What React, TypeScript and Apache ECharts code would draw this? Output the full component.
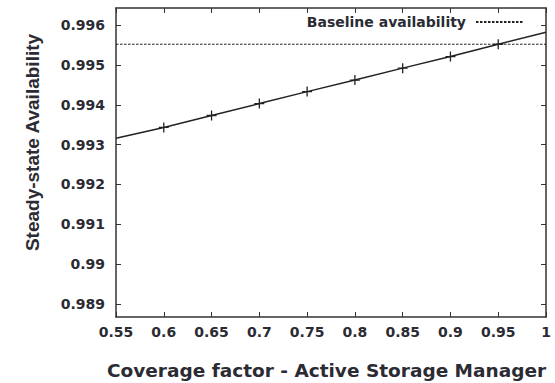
import React, { useEffect, useRef } from "react";
import * as echarts from "echarts";

const coverage = [0.55, 0.6, 0.65, 0.7, 0.75, 0.8, 0.85, 0.9, 0.95, 1];
const availability = [0.99316, 0.99343, 0.99373, 0.99403, 0.99433, 0.99462, 0.99492, 0.99521, 0.99552, 0.99582];
const baselineValue = 0.99552;
const xTicks = [0.55, 0.6, 0.65, 0.7, 0.75, 0.8, 0.85, 0.9, 0.95, 1];
const yTicks = [0.989, 0.99, 0.991, 0.992, 0.993, 0.994, 0.995, 0.996];
const xRange = [0.55, 1];
const yRange = [0.98867, 0.99643];
const legendLabel = "Baseline availability";
const xTitle = "Coverage factor - Active Storage Manager";
const yTitle = "Steady-state Availability";

const INK = "#2b2b33";
const LINE = "#222222";

export default function App() {
  const ref = useRef<HTMLDivElement>(null);
  useEffect(() => {
    if (!ref.current) return;
    const chart = echarts.init(ref.current, null, { renderer: "svg" });
    const tickFont = { fontFamily: "DejaVu Sans", fontWeight: "bold" as const, fontSize: 14, color: INK };
    const axisLine = { show: true, lineStyle: { color: "#333", width: 1.5 } };
    const axisTickBase = { show: true, inside: true, length: 5, lineStyle: { color: "#333", width: 1 } };
    const mainData = coverage.map((x, i) => ({
      value: [x, availability[i]],
      symbol: i === 0 || i === coverage.length - 1 ? "none" : "path://M-5,0L5,0M0,-5L0,5",
    }));
    chart.setOption({
      animation: false,
      backgroundColor: "#ffffff",
      grid: { left: 116, top: 8, right: 9, bottom: 66, containLabel: false },
      xAxis: [
        {
          type: "value", min: xRange[0], max: xRange[1], position: "bottom",
          axisLine, splitLine: { show: false },
          axisTick: { ...axisTickBase, customValues: xTicks },
          axisLabel: { ...tickFont, margin: 8, customValues: xTicks },
        },
        {
          type: "value", min: xRange[0], max: xRange[1], position: "top",
          axisLine, splitLine: { show: false },
          axisTick: { ...axisTickBase, customValues: xTicks },
          axisLabel: { show: false },
        },
      ],
      yAxis: [
        {
          type: "value", min: yRange[0], max: yRange[1], position: "left",
          axisLine, splitLine: { show: false },
          axisTick: { ...axisTickBase, customValues: yTicks },
          axisLabel: { ...tickFont, margin: 11, customValues: yTicks },
        },
        {
          type: "value", min: yRange[0], max: yRange[1], position: "right",
          axisLine, splitLine: { show: false },
          axisTick: { ...axisTickBase, customValues: yTicks },
          axisLabel: { show: false },
        },
      ],
      legend: {
        data: [legendLabel],
        right: 30,
        top: 15,
        padding: 0,
        align: "right",
        itemWidth: 48,
        itemHeight: 14,
        itemStyle: { opacity: 0 },
        textStyle: { fontFamily: "DejaVu Sans", fontWeight: "bold", fontSize: 14, color: INK, padding: [0, 5, 0, 0] },
      },
      series: [
        {
          type: "line",
          xAxisIndex: 0, yAxisIndex: 0,
          data: mainData,
          symbolSize: 10,
          showAllSymbol: true,
          lineStyle: { color: LINE, width: 1.5 },
          itemStyle: { color: "none", borderColor: LINE, borderWidth: 1.3 },
          z: 3,
        },
        {
          name: legendLabel,
          type: "line",
          xAxisIndex: 0, yAxisIndex: 0,
          data: [[xRange[0], baselineValue], [xRange[1], baselineValue]],
          symbol: "none",
          lineStyle: { color: LINE, width: 1, type: [2.5, 1.5] },
          itemStyle: { color: LINE },
          z: 2,
        },
      ],
      graphic: [
        {
          type: "text", x: 32, y: 142.5, rotation: Math.PI / 2,
          style: {
            text: yTitle, fontFamily: "Liberation Sans", fontWeight: "bold", fontSize: 19,
            fill: INK, align: "center", verticalAlign: "middle",
          },
        },
        {
          type: "text", x: 326.5, y: 370.5,
          style: {
            text: xTitle, fontFamily: "DejaVu Sans", fontWeight: "bold", fontSize: 18.5,
            fill: INK, align: "center", verticalAlign: "middle",
          },
        },
      ],
    });
    return () => chart.dispose();
  }, []);
  return <div ref={ref} style={{ position: "fixed", left: 0, top: 0, width: 555, height: 383 }} />;
}
